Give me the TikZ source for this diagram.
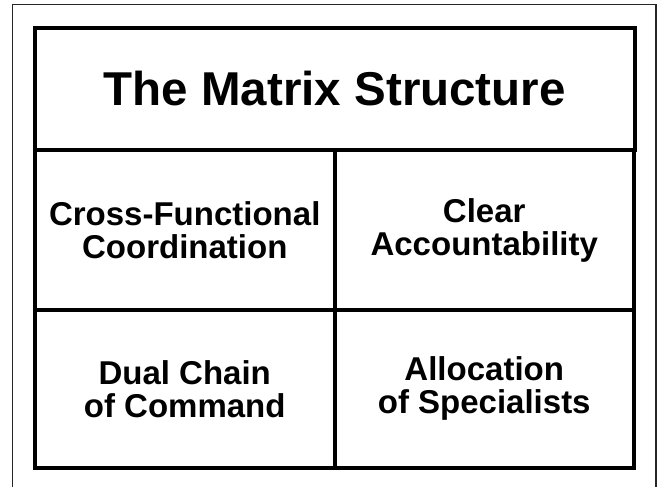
\documentclass[tikz,border=0pt]{standalone}
\usepackage{fontspec}
\setmainfont{Liberation Sans}
\usetikzlibrary{positioning}

\begin{document}
\begin{tikzpicture}[
    x=1pt, y=-1pt,
    node distance=0pt and 0pt,
    frame/.style={draw=black!85, line width=1.5pt},
    titlebox/.style={rectangle, draw, line width=4pt, outer sep=0pt, inner sep=0pt, minimum width=599.5pt, minimum height=122pt, align=center, font=\bfseries\fontsize{47.5}{52}\selectfont},
    cell/.style={rectangle, draw, line width=4pt, outer sep=0pt, inner sep=0pt, minimum width=299.5pt, minimum height=160pt, align=center, font=\bfseries\fontsize{33}{33}\selectfont},
    lowcell/.style={cell, minimum height=157.5pt}
]
    \useasboundingbox (0,0) rectangle (657,487);
    \clip (0,0) rectangle (657,487);
    % outer frame
    \draw [frame] (12.5,4.5) rectangle (656,495);

    \node (title) [titlebox, anchor=north west] at (35,28) {The Matrix Structure};
    \node (coord) [cell, below right=of title.south west] {Cross-Functional\\Coordination};
    \node (account) [cell, right=of coord] {Clear\\Accountability};
    \node (dual) [lowcell, below right=of coord.south west] {Dual Chain\\of Command};
    \node (alloc) [lowcell, right=of dual] {Allocation\\of Specialists};
\end{tikzpicture}
\end{document}
